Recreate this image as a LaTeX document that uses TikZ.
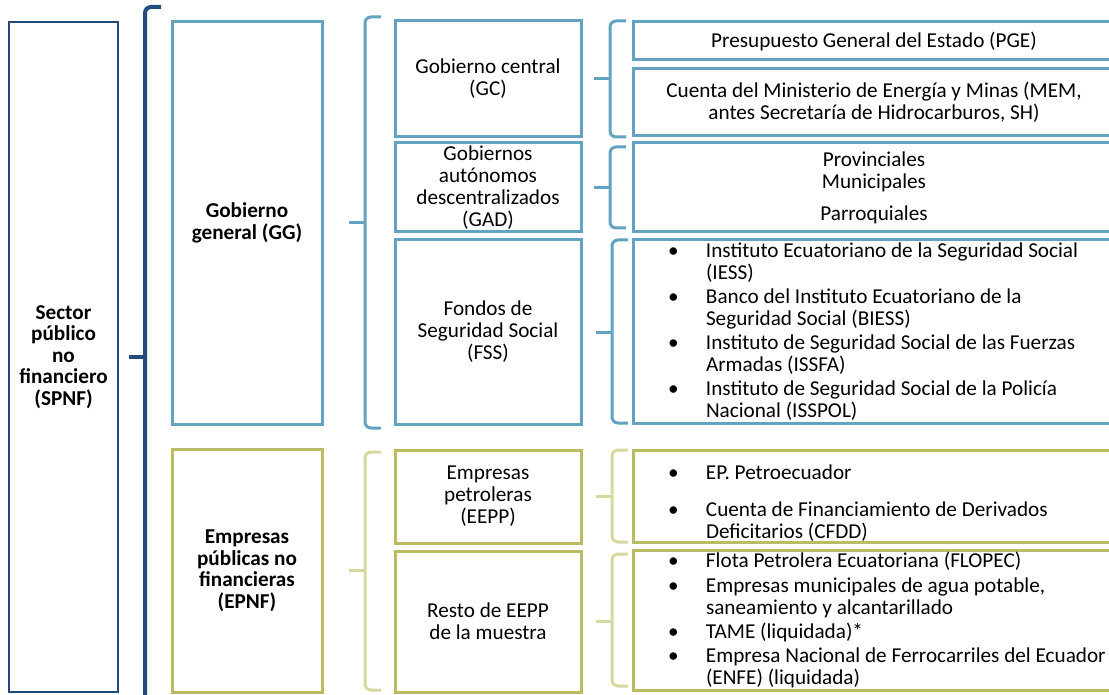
\documentclass[tikz,border=0pt]{standalone}
\usepackage{fontspec}
\setmainfont{Carlito}
\usetikzlibrary{positioning,calc}

\definecolor{azulosc}{RGB}{33,75,122}
\definecolor{celeste}{RGB}{97,163,192}
\definecolor{oliva}{RGB}{187,188,98}
\definecolor{olivaclaro}{RGB}{215,216,160}

% vinetas de las listas
\newcommand{\pto}{\makebox[38pt][l]{\textbullet}}
\newcommand{\sig}{\hspace*{38pt}}

% llave: estilo, origen, primer nodo, ultimo nodo, separacion, exceso
\newcommand{\llave}[6]{%
  \coordinate (lt) at ($(#3.north west)+(-#5,{0-(#6)})$);
  \coordinate (lb) at ($(#4.south west)+(-#5,{#6})$);
  \draw[#1] ($(lt)+(16,0)$) -- (lt) -- (lb) -- ($(lb)+(16,0)$);
  \draw[#1] (lt |- #2.east) -- ++(-16,0);
}

\begin{document}
\begin{tikzpicture}[x=1pt, y=-1pt,
  every node/.style={font=\fontsize{21.2}{22}\selectfont, inner ysep=0pt},
  caja/.style={draw, line width=3pt, outer sep=0pt, align=center, anchor=north west, inner xsep=4pt},
  titulo/.style={caja, font=\fontsize{21.2}{21.5}\selectfont\bfseries},
  medio/.style={caja, minimum width=186},
  derecha/.style={caja, draw=celeste, minimum width=482},
  lista/.style={caja, align=flush left, text width=470pt, inner xsep=35pt},
  llave/.style={line width=3pt, rounded corners=6pt}]

\useasboundingbox (0,0) rectangle (1109,695);

% primer nivel
\node[titulo, draw=azulosc, line width=2.5pt, minimum width=109, minimum height=670] (spnf) at (9,22)
  {Sector\\público\\no\\financiero\\(SPNF)};

% segundo nivel
\node[titulo, draw=celeste, minimum width=150, minimum height=402] (gg) at (172,22) {Gobierno\\general (GG)};
\node[titulo, draw=oliva, minimum width=150, minimum height=243] (epnf) at (172,449)
  {Empresas\\públicas no\\financieras\\(EPNF)};

% tercer nivel
\node[medio, draw=celeste, minimum height=116] (gc) at (395,21) {Gobierno central\\(GC)};
\node[medio, draw=celeste, minimum height=89, below=6pt of gc.south west, anchor=north west] (gad)
  {Gobiernos\\autónomos\\descentralizados\\(GAD)};
\node[medio, draw=celeste, minimum height=184, below=8pt of gad.south west, anchor=north west] (fss)
  {Fondos de\\Seguridad Social\\(FSS)};
\node[medio, draw=oliva, minimum height=93] (eepp) at (395,450) {Empresas\\petroleras\\(EEPP)};
\node[medio, draw=oliva, minimum height=141, below=8pt of eepp.south west, anchor=north west] (resto)
  {Resto de EEPP\\de la muestra};

% cuarto nivel
\node[derecha, minimum height=38] (pge) at (633,22) {Presupuesto General del Estado (PGE)};
\node[derecha, minimum height=67, below=9pt of pge.south west, anchor=north west] (mem)
  {Cuenta del Ministerio de Energía y Minas (MEM,\\antes Secretaría de Hidrocarburos, SH)};
\node[derecha, minimum height=89, below=7pt of mem.south west, anchor=north west] (gadl)
  {Provinciales\\Municipales\\[10pt]Parroquiales};
\node[lista, draw=celeste, minimum height=183, below=8pt of gadl.south west, anchor=north west] (fssl)
  {\pto Instituto Ecuatoriano de la Seguridad Social\\
   \sig (IESS)\\[2pt]
   \pto Banco del Instituto Ecuatoriano de la\\
   \sig Seguridad Social (BIESS)\\[2pt]
   \pto Instituto de Seguridad Social de las Fuerzas\\
   \sig Armadas (ISSFA)\\[2pt]
   \pto Instituto de Seguridad Social de la Policía\\
   \sig Nacional (ISSPOL)};
\node[lista, draw=oliva, minimum height=92] (eeppl) at (633,450)
  {\rule{0pt}{28pt}\pto EP. Petroecuador\\[15pt]
   \pto Cuenta de Financiamiento de Derivados\\
   \sig Deficitarios (CFDD)};
\node[lista, draw=oliva, minimum height=140, below=8pt of eeppl.south west, anchor=north west] (restol)
  {\pto Flota Petrolera Ecuatoriana (FLOPEC)\\[3pt]
   \pto Empresas municipales de agua potable,\\
   \sig saneamiento y alcantarillado\\[2pt]
   \pto TAME (liquidada)*\\[2pt]
   \pto Empresa Nacional de Ferrocarriles del Ecuador\\
   \sig (ENFE) (liquidada)};

% llaves
\llave{llave, draw=azulosc, line width=4pt}{spnf}{gg}{epnf}{27}{15}
\llave{llave, draw=celeste}{gg}{gc}{fss}{30}{4}
\llave{llave, draw=olivaclaro}{epnf}{eepp}{resto}{30}{-2}
\llave{llave, draw=celeste}{gc}{pge}{mem}{23}{1}
\llave{llave, draw=celeste}{gad}{gadl}{gadl}{23}{-4}
\llave{llave, draw=celeste}{fss}{fssl}{fssl}{21}{0}
\llave{llave, draw=olivaclaro}{eepp}{eeppl}{eeppl}{21}{0}
\llave{llave, draw=olivaclaro}{resto}{restol}{restol}{21}{-4}
\end{tikzpicture}
\end{document}
